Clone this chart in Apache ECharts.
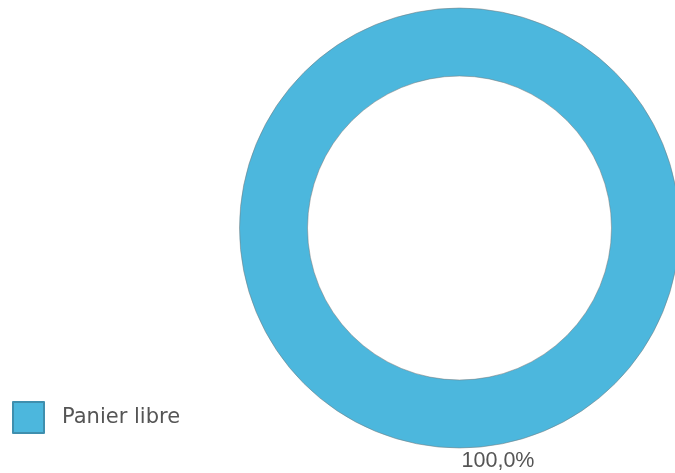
<!DOCTYPE html>
<html>
<head>
<meta charset="utf-8">
<style>
  html, body { margin: 0; padding: 0; background: #ffffff; }
  #chart { width: 675px; height: 473px; }
</style>
<script src="https://cdn.jsdelivr.net/npm/echarts@6/dist/echarts.min.js"></script>
</head>
<body>
<div id="chart"></div>
<script>
// Share of baskets by type
const categories = ['Panier libre'];
const values = [100.0];
const colors = ['#4cb7dd'];

const chart = echarts.init(document.getElementById('chart'), null, { renderer: 'canvas' });

const option = {
  animation: false,
  color: colors,
  legend: {
    orient: 'vertical',
    left: 7,
    top: 396,
    itemWidth: 31,
    itemHeight: 31,
    icon: 'rect',
    itemStyle: { borderColor: '#3f8fae', borderWidth: 2 },
    textStyle: {
      fontFamily: 'DejaVu Sans, sans-serif',
      fontSize: 21,
      color: '#555555',
      padding: [0, 0, 0, 13]
    },
    data: categories
  },
  series: [{
    type: 'pie',
    center: [459.5, 228],
    radius: [152, 220],
    startAngle: 90,
    clockwise: true,
    silent: true,
    itemStyle: { borderColor: 'rgba(120,120,120,0.5)', borderWidth: 1 },
    label: {
      show: true,
      position: 'outside',
      formatter: p => p.value.toFixed(1).replace('.', ',') + '%',
      fontFamily: 'Liberation Sans, Arial, sans-serif',
      fontSize: 21.5,
      color: '#555555'
    },
    labelLine: { show: false },
    labelLayout: function () {
      return { x: 498, y: 461, align: 'center', verticalAlign: 'middle' };
    },
    data: categories.map((name, i) => ({ name: name, value: values[i] }))
  }]
};

chart.setOption(option);
</script>
</body>
</html>
